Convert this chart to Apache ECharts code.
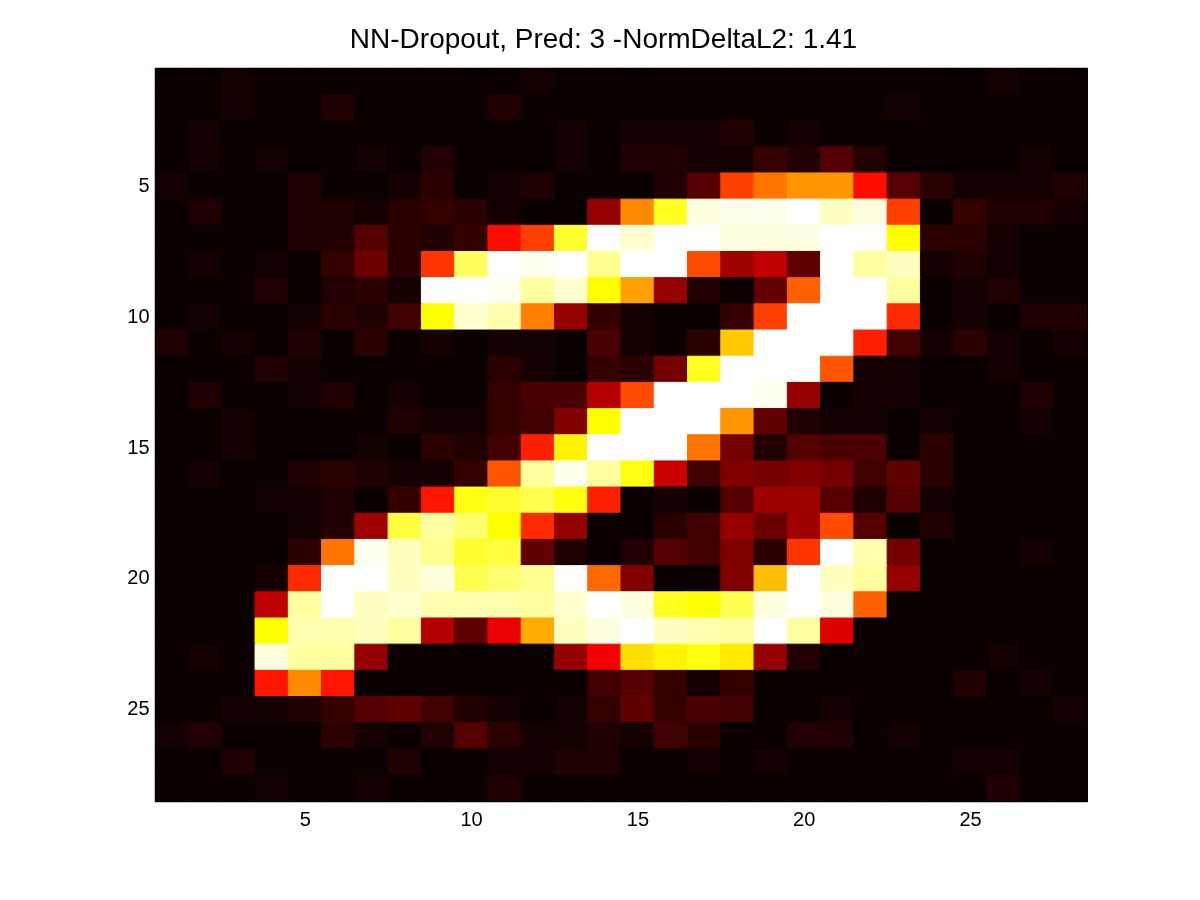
<!DOCTYPE html>
<html>
<head>
<meta charset="utf-8">
<style>html,body{margin:0;padding:0;background:#fff}#c{width:1200px;height:900px}</style>
<script src="https://cdn.jsdelivr.net/npm/echarts@6/dist/echarts.min.js"></script>
</head>
<body>
<div id="c"></div>
<script>
var titleText = 'NN-Dropout, Pred: 3 -NormDeltaL2: 1.41';
var tickValues = [5, 10, 15, 20, 25];
var cols = [1,2,3,4,5,6,7,8,9,10,11,12,13,14,15,16,17,18,19,20,21,22,23,24,25,26,27,28];
// Cell values are positions in a 64-level "hot" colour map (1..64)
var row01 = [1,1,2,1,1,1,1,1,1,1,1,2,1,1, 1,1,1,1,1,1,1,1,1,1,1,2,1,1];
var row02 = [1,1,2,1,1,3,1,1,1,1,3,1,1,1, 1,1,1,1,1,1,1,1,2,1,1,1,1,1];
var row03 = [1,2,1,1,1,1,1,1,1,1,1,1,2,1, 2,2,2,3,1,2,1,1,1,1,1,1,1,1];
var row04 = [1,2,1,2,1,1,2,1,3,1,1,1,2,1, 3,3,2,2,5,3,8,3,1,1,1,1,2,1];
var row05 = [2,1,1,1,3,1,1,2,4,1,2,3,1,1, 1,3,8,30,35,38,38,25,8,4,2,2,2,3];
var row06 = [1,3,1,1,3,3,2,4,5,4,2,1,1,14, 37,50,62,63,63,64,60,62,30,1,5,3,3,2];
var row07 = [1,1,1,1,3,3,8,4,3,5,25,30,51,64, 61,64,64,62,62,62,64,64,48,4,4,2,1,1];
var row08 = [1,2,1,2,1,5,10,4,29,54,64,63,64,57, 64,64,31,15,18,9,64,58,60,2,3,2,1,1];
var row09 = [1,1,1,3,1,3,4,2,64,64,63,58,61,48, 39,14,3,1,9,33,64,64,58,1,2,3,1,1];
var row10 = [1,2,1,1,2,4,3,6,48,61,59,36,14,5, 2,1,1,5,30,64,64,64,28,1,2,1,3,3];
var row11 = [3,1,2,1,3,1,4,1,2,1,2,2,1,7, 2,1,4,43,64,64,64,27,6,2,4,2,1,2];
var row12 = [1,1,1,3,2,1,1,1,1,1,4,2,1,5, 4,11,50,64,64,64,32,2,2,1,1,2,1,1];
var row13 = [1,3,1,1,2,3,1,2,1,1,5,7,7,17, 31,64,64,64,63,14,1,2,2,1,1,1,3,1];
var row14 = [1,1,2,1,1,1,1,3,2,2,5,6,12,48, 64,64,64,38,9,3,2,2,1,2,1,1,2,1];
var row15 = [1,1,2,1,1,1,2,1,4,3,6,27,47,64, 64,64,35,11,3,8,7,7,1,4,1,1,1,1];
var row16 = [1,2,1,1,3,4,3,2,2,5,32,58,63,58, 49,19,6,12,11,12,11,6,9,4,1,1,1,1];
var row17 = [1,1,1,2,2,3,1,5,26,49,51,53,49,27, 1,2,1,8,15,15,8,3,8,2,1,1,1,1];
var row18 = [1,1,1,1,2,3,15,52,58,55,48,28,14,1, 1,4,6,14,10,15,31,8,1,3,1,1,1,1];
var row19 = [1,1,1,1,4,35,63,60,57,51,52,9,3,1, 3,8,6,12,4,29,64,59,11,1,1,1,2,1];
var row20 = [1,1,1,2,28,64,64,60,62,53,55,57,64,34, 12,1,1,12,42,64,60,58,14,1,1,1,1,1];
var row21 = [1,1,1,18,58,64,60,61,59,59,59,58,61,64, 62,50,48,53,62,64,62,33,1,1,1,1,1,1];
var row22 = [1,1,1,48,59,59,60,58,17,9,22,40,60,62, 64,60,59,58,64,58,21,1,1,1,1,1,1,1];
var row23 = [1,2,1,62,58,58,14,1,1,1,1,1,14,23, 45,47,49,46,14,3,1,1,1,1,1,2,1,1];
var row24 = [1,1,1,26,37,26,1,1,1,1,1,1,1,6, 8,5,2,5,1,1,1,1,1,1,3,1,2,1];
var row25 = [1,1,2,2,3,5,8,9,6,3,2,1,2,5, 9,5,7,6,1,1,2,1,1,1,1,1,1,2];
var row26 = [2,3,1,1,1,4,2,1,3,8,4,2,2,3, 2,6,4,1,1,3,3,1,2,1,1,1,1,1];
var row27 = [1,1,3,1,1,1,1,3,1,1,2,2,3,3, 1,1,2,1,2,1,1,1,1,1,2,2,1,1];
var row28 = [1,1,1,2,1,1,2,1,1,1,3,1,1,1, 1,1,1,1,1,1,1,1,1,1,1,3,1,1];
var rows = [row01,row02,row03,row04,row05,row06,row07,row08,row09,row10,row11,row12,row13,row14,
            row15,row16,row17,row18,row19,row20,row21,row22,row23,row24,row25,row26,row27,row28];
var hotStops = ['#000000','#550000','#aa0000','#ff0000','#ff5500','#ffaa00','#ffff00','#ffff80','#ffffff'];

var cells = [];
rows.forEach(function (r, y) {
  r.forEach(function (v, x) {
    var colour = echarts.color.lerp(v / 64, hotStops);
    cells.push({ value: [x, y, v], itemStyle: { color: colour, borderColor: colour, borderWidth: 1 } });
  });
});

var font = '"Liberation Sans", Arial, Helvetica, sans-serif';
function showTick(i, v) { return tickValues.indexOf(+v) >= 0; }
function axis(pos, labelled, inverse, margin) {
  return {
    type: 'category', data: cols, position: pos, inverse: !!inverse,
    boundaryGap: true, z: 10,
    axisLine: { show: true, onZero: false, lineStyle: { color: '#000', width: 1 } },
    axisTick: { show: true, inside: true, length: 9, alignWithLabel: true, interval: showTick, lineStyle: { color: '#000', width: 1 } },
    axisLabel: { show: labelled, interval: showTick, color: '#000', fontFamily: font, fontSize: 20, margin: margin },
    splitLine: { show: false }, splitArea: { show: false }
  };
}
var chart = echarts.init(document.getElementById('c'), null, { renderer: 'canvas' });
chart.setOption({
  animation: false,
  backgroundColor: '#fff',
  title: { text: titleText, left: 598.5, top: 21, textAlign: 'center',
           textStyle: { color: '#000', fontFamily: font, fontSize: 28, fontWeight: 'normal' } },
  grid: { left: 155.5, top: 68.5, width: 931.5, height: 733, containLabel: false },
  xAxis: [axis('bottom', true, false, 9), axis('top', false, false, 8)],
  yAxis: [axis('left', true, true, 6), axis('right', false, true, 8)],
  visualMap: { show: false, type: 'continuous', min: 0, max: 64, dimension: 2, seriesIndex: 0, inRange: { color: hotStops } },
  tooltip: { show: false },
  series: [{ type: 'heatmap', data: cells, silent: true, progressive: 0, emphasis: { disabled: true } }]
});
</script>
</body>
</html>
